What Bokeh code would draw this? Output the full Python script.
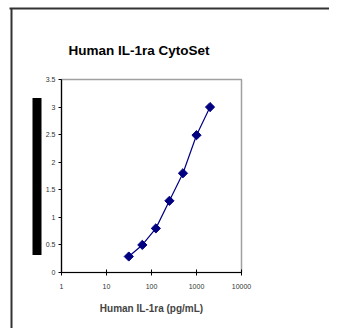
import math
from bokeh.plotting import figure
from bokeh.models import Title, FixedTicker, Range1d, NumeralTickFormatter, LinearAxis, LogAxis
from bokeh.embed import file_html
from bokeh.resources import INLINE

conc = [31.25, 62.5, 125, 250, 500, 1000, 2000]
od = [0.29, 0.50, 0.80, 1.30, 1.80, 2.49, 3.00]
y_ticks = [0, 0.5, 1, 1.5, 2, 2.5, 3, 3.5]
x_ticks = [1, 10, 100, 1000, 10000]
title_text = "Human IL-1ra CytoSet"
x_label = "Human IL-1ra (pg/mL)"

p = figure(width=329, height=328, x_axis_type="log", output_backend="svg",
           toolbar_location=None, x_range=Range1d(1, 10000), y_range=Range1d(0, 3.5),
           min_border_left=61, min_border_right=88, min_border_top=79, min_border_bottom=56)
p.grid.visible = False
p.outline_line_color = "#a0a0a0"
p.outline_line_width = 1.5

p.title = Title(text=title_text, align="left", offset=7, text_font="Liberation Sans",
                text_font_size="13.5px", text_font_style="bold", text_color="black", standoff=43)

p.yaxis.ticker = FixedTicker(ticks=y_ticks)
p.xaxis.ticker = FixedTicker(ticks=x_ticks)
p.xaxis.formatter = NumeralTickFormatter(format="0")
for ax in (p.xaxis, p.yaxis):
    ax.axis_line_color = "black"
    ax.axis_line_width = 1.2
    ax.major_tick_line_color = "black"
    ax.minor_tick_line_color = None
    ax.major_label_text_font = "Liberation Sans"
    ax.major_label_text_font_size = "7px"
    ax.major_label_text_color = "#333333"
p.yaxis.major_tick_out = 3
p.yaxis.major_tick_in = 0
p.xaxis.major_tick_out = 3
p.xaxis.major_tick_in = 3
p.yaxis.major_label_standoff = 3
p.xaxis.major_label_standoff = 8
p.xaxis.axis_label = x_label
p.xaxis.axis_label_text_font = "Liberation Sans"
p.xaxis.axis_label_text_font_size = "10px"
p.xaxis.axis_label_text_font_style = "bold"
p.xaxis.axis_label_standoff = 11

p.line(conc, od, line_color="#000080", line_width=1.2)
p.scatter(conc, od, marker="square", angle=math.pi / 4, size=6.5,
          fill_color="#000080", line_color="#000080")


def deco_axis(cls, tick, width, tin, tout, color):
    ax = cls(ticker=FixedTicker(ticks=[tick]), axis_line_color=None,
             major_tick_line_color=color, major_tick_line_width=width,
             major_tick_line_cap="butt", minor_tick_line_color=None,
             major_tick_in=tin, major_tick_out=tout, major_label_standoff=0,
             major_label_text_color=None, major_label_text_font_size="1px")
    return ax

# black bar at left (redacted y-axis title)
p.add_layout(deco_axis(LinearAxis, 1.732, 157, -1, 10, "black"), "left")
# left page border
p.add_layout(deco_axis(LinearAxis, 1.782, 332, -20, 22, "#333333"), "left")
# top page border
p.add_layout(deco_axis(LogAxis, 253.6, 320, 307, -309, "#333333"), "below")

open("out.html", "w").write(file_html(p, INLINE))
